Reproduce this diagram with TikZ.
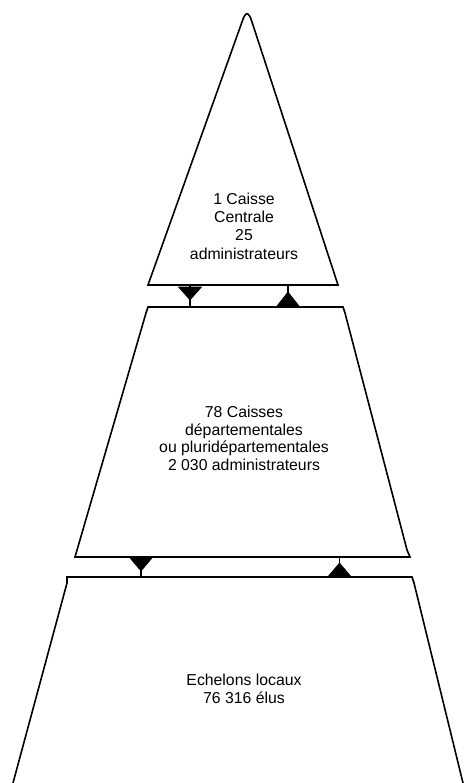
\documentclass[tikz,border=0pt]{standalone}
\usepackage{fontspec}
\setmainfont{Liberation Sans}
\begin{document}
\begin{tikzpicture}[x=1pt,y=-1pt,
  shapeline/.style={draw=black,line width=1.6pt,line join=miter},
  stem/.style={draw=black,line width=1.4pt},
  tip/.style={fill=black,draw=black,line width=0.6pt},
  lbl/.style={anchor=base,inner sep=0pt,font=\fontsize{15.8}{18}\selectfont}]
\useasboundingbox (0,0) rectangle (464,783);
% top triangle
\draw[shapeline] (148,285) -- (242,22) .. controls (245.5,11) and (248.5,11) .. (252,22) -- (338,285) -- cycle;
% middle trapezoid
\draw[shapeline] (148,307) -- (343,307) -- (345,313) -- (407,550) -- (410,557) -- (75,557) -- (146,313) -- cycle;
% bottom trapezoid (open at bottom)
\draw[shapeline] (13,783) -- (67,583) -- (67,577) -- (412,577) -- (414,583) -- (463,783);
% connectors level 1-2
\coordinate (a1) at (190,286); \coordinate (a2) at (190,307);
\coordinate (b1) at (288,286); \coordinate (b2) at (288,307);
\draw[stem] (a1) -- (a2);
\draw[stem] (b1) -- (b2);
\path[tip] (178.5,287) -- (201.5,287) -- (190,300) -- cycle;
\path[tip] (277,306) -- (299,306) -- (288,292) -- cycle;
% connectors level 2-3
\coordinate (c1) at (141,557); \coordinate (c2) at (141,577);
\coordinate (d1) at (339.5,557); \coordinate (d2) at (339.5,577);
\draw[stem] (c1) -- (c2);
\draw[stem] (d1) -- (d2);
\path[tip] (130,558) -- (152,558) -- (141,571) -- cycle;
\path[tip] (328.5,576) -- (350.5,576) -- (339.5,563) -- cycle;
% texts
\node[lbl] (t1) at (244,205) {1 Caisse};
\node[lbl] (t2) at (244,223) {Centrale};
\node[lbl] (t3) at (244,241) {25};
\node[lbl] (t4) at (244,259) {administrateurs};
\node[lbl] (m1) at (244,417) {78 Caisses};
\node[lbl] (m2) at (244,435) {départementales};
\node[lbl] (m3) at (244,452.5) {ou pluridépartementales};
\node[lbl] (m4) at (244,470) {2 030 administrateurs};
\node[lbl] (b1t) at (244,685) {Echelons locaux};
\node[lbl] (b2t) at (244,703) {76 316 élus};
\end{tikzpicture}
\end{document}
